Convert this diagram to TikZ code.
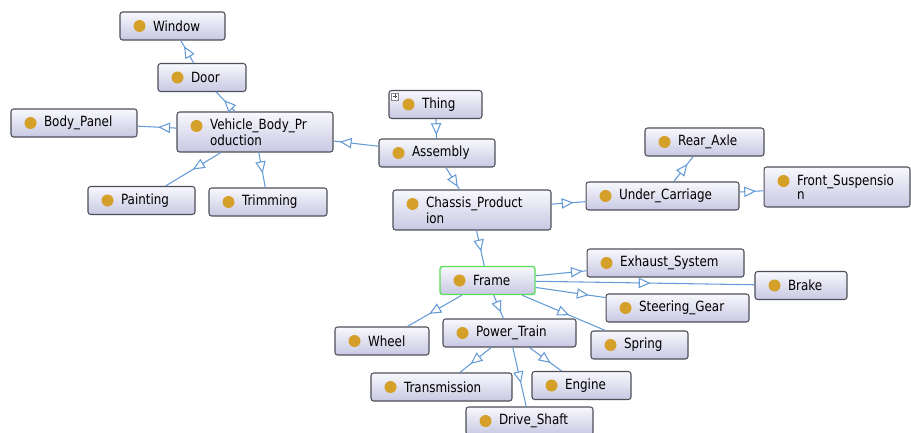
\documentclass[tikz,border=0pt]{standalone}
\usepackage{fontspec}
\setmainfont{DejaVu Sans}[FakeStretch=0.85]
\usepackage{tikz}
\usepackage{xcolor}
\usetikzlibrary{shapes,arrows,positioning,calc,decorations.markings}

\definecolor{boxtop}{RGB}{248,248,253}
\definecolor{boxbot}{RGB}{200,200,227}
\definecolor{boxline}{RGB}{78,78,88}
\definecolor{linkc}{RGB}{100,155,215}
\definecolor{dotc}{RGB}{212,160,42}
\definecolor{selc}{RGB}{90,222,90}

\tikzset{
  cls/.style={rectangle, draw=boxline, line width=0.6pt, rounded corners=1.5pt,
    top color=boxtop, bottom color=boxbot, minimum height=0.56cm,
    inner xsep=0.1cm, inner ysep=0.05cm, align=left,
    font=\fontsize{8}{7.9}\selectfont,
    execute at begin node={\leftskip=0.56cm},
    path picture={\fill[dotc] ([shift={(0.39cm,-0.28cm)}]path picture bounding box.north west) circle (0.12cm);}},
  sel/.style={cls, draw=selc, line width=0.8pt},
  link/.style={draw=linkc, line width=0.6pt},
  tri/.style={decoration={markings, mark=at position 0.5 with {\draw[linkc, fill=white, line width=0.6pt] (-0.1cm,0.09cm) -- (0.1cm,0) -- (-0.1cm,-0.09cm) -- cycle;}}, decorate}
}

\begin{document}
\begin{tikzpicture}[x=0.02cm, y=-0.02cm]
  \path[use as bounding box, fill=white] (0,0) rectangle (911,432);

  % body side
  \node[cls, text width=1.9cm] (window) at (172.5,26) {Window};
  \node[cls, text width=1.56cm] (door) at (202,77.5) {Door};
  \node[cls, text width=2.32cm] (bodypanel) at (74,123) {Body\_Panel};
  \node[cls, text width=2.92cm, minimum height=0.8cm] (vbp) at (255,132) {Vehicle\_Body\_Pr\\oduction};
  \node[cls, text width=1.94cm] (painting) at (141.5,200.5) {Painting};
  \node[cls, text width=2.16cm] (trimming) at (268,202) {Trimming};

  % top
  \node[cls, text width=1.66cm] (thing) at (435.5,104.5) {Thing};
  \draw[boxline!70, fill=white, line width=0.3pt] ([shift={(3,3)}]thing.north west) rectangle +(7,7);
  \draw[boxline, line width=0.4pt] ([shift={(4.5,6.5)}]thing.north west) -- +(4,0)
    ([shift={(6.5,4.5)}]thing.north west) -- +(0,4);
  \node[cls, text width=2.12cm] (assembly) at (437,153) {Assembly};

  % chassis side
  \node[cls, text width=2.96cm, minimum height=0.8cm] (chassis) at (472,210) {Chassis\_Product\\ion};
  \node[cls, text width=2.86cm] (undercarriage) at (662.5,196) {Under\_Carriage};
  \node[cls, text width=2.18cm] (rearaxle) at (704.5,142) {Rear\_Axle};
  \node[cls, text width=2.72cm, minimum height=0.8cm] (frontsusp) at (837,187) {Front\_Suspensio\\n};

  % frame
  \node[sel, text width=1.7cm] (frame) at (487.5,280.5) {Frame};
  \node[cls, text width=2.94cm] (exhaust) at (665.5,263) {Exhaust\_System};
  \node[cls, text width=1.64cm] (brake) at (801,285.5) {Brake};
  \node[cls, text width=2.66cm] (steering) at (677.5,308) {Steering\_Gear};
  \node[cls, text width=1.68cm] (wheel) at (382,341) {Wheel};
  \node[cls, text width=2.46cm] (powertrain) at (509.5,333) {Power\_Train};
  \node[cls, text width=1.74cm] (spring) at (639.5,345) {Spring};
  \node[cls, text width=2.62cm] (transmission) at (441.5,387) {Transmission};
  \node[cls, text width=1.78cm] (engine) at (581.5,385.5) {Engine};
  \node[cls, text width=2.34cm] (driveshaft) at (529.5,421) {Drive\_Shaft};

  % subclass links
  \foreach \p/\c in {thing/assembly, assembly/vbp, assembly/chassis,
      vbp/door, door/window, vbp/bodypanel, vbp/painting, vbp/trimming,
      chassis/undercarriage, undercarriage/rearaxle, undercarriage/frontsusp,
      chassis/frame, frame/exhaust, frame/brake, frame/steering, frame/spring,
      frame/powertrain, frame/wheel,
      powertrain/transmission, powertrain/engine, powertrain/driveshaft}{
    \draw[link] (\p) -- (\c);
    \path[tri] (\p.center) -- (\c.center);
  }
\end{tikzpicture}
\end{document}
